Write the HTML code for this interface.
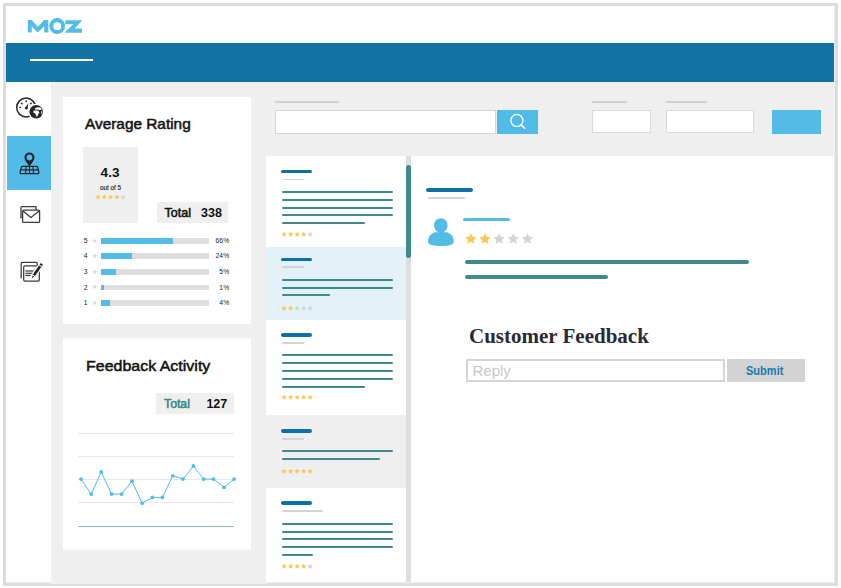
<!DOCTYPE html>
<html><head><meta charset="utf-8">
<style>
*{margin:0;padding:0;box-sizing:border-box}
html,body{width:841px;height:588px;overflow:hidden;background:#fff;font-family:"Liberation Sans",sans-serif}
.a{position:absolute}
.frame{left:3px;top:3px;width:835px;height:583px;border:3px solid #dddddd;background:#efefef}
.hdrw{left:6px;top:6px;width:828px;height:37px;background:#fff}
.hdr{left:6px;top:43px;width:828px;height:38.5px;background:#1174a5}
.side{left:6px;top:81.5px;width:45px;height:500.5px;background:#fff}
.card{background:#fff}
.ln{position:absolute;border-radius:2px}
.teal{background:#3e8a8a;height:2px}
.blu{background:#0e70a5;height:3.6px;border-radius:2px}
.gry{background:#d4d4d4;height:1.9px}
svg{position:absolute;overflow:visible}
.t{position:absolute;white-space:nowrap;line-height:1}
</style></head><body>
<svg width="0" height="0" style="position:absolute">
<defs>
<symbol id="st" viewBox="0 0 20 20"><polygon points="10.00,1.00 12.54,7.11 19.13,7.63 14.11,11.93 15.64,18.37 10.00,14.92 4.36,18.37 5.89,11.93 0.87,7.63 7.46,7.11"/></symbol>
</defs>
</svg>

<div class="a frame"></div>
<div class="a hdrw"></div>
<div class="a hdr"></div>
<div class="a" style="left:30px;top:59px;width:63px;height:2px;background:#fff"></div>

<!-- logo -->
<svg class="a" style="left:0;top:0" width="100" height="45" viewBox="0 0 100 45">
  <g fill="#52bbe8">
    <polygon points="27.8,19.9 31.7,19.9 37.8,26.7 44.2,19.9 48.3,19.9 48.3,32.6 44.2,32.6 44.2,26.3 37.8,32.6 31.7,26.3 31.7,32.6 27.8,32.6"/>
    <path fill-rule="evenodd" d="M57.2,18.1 a8,8 0 1 1 0,16 a8,8 0 1 1 0,-16 Z M57.2,22.2 a3.95,3.95 0 1 0 0,7.9 a3.95,3.95 0 1 0 0,-7.9 Z"/>
    <polygon points="65.4,20.2 81.7,20.2 81.7,20.9 74.6,28.5 82,28.5 82,32.7 65.4,32.7 65.4,31.6 73.4,24.2 65.4,24.2"/>
  </g>
</svg>

<div class="a" style="left:51px;top:580px;width:215px;height:3.7px;background:#efefef"></div>
<div class="a side"></div>
<div class="a" style="left:7px;top:136px;width:44px;height:54px;background:#52bbe8"></div>

<!-- gauge icon -->
<svg class="a" style="left:0;top:0" width="60" height="300">
  <circle cx="26.1" cy="107.5" r="9.4" stroke="#25252d" fill="none" stroke-width="1.5"/>
  <g stroke="#25252d" stroke-width="1.5" stroke-linecap="round">
    <path d="M26.3,100.9 L26.3,101.5 M21.6,103.2 L22,103.6 M31.1,103.2 L30.7,103.6 M19.8,107.6 L20.3,107.6"/>
  </g>
  <g fill="#25252d">
    <path d="M27.5,108.7 L28.4,103.3 L25.1,107.8 Z"/>
    <circle cx="26.3" cy="108.2" r="1.35"/>
  </g>
  <circle cx="36.2" cy="111.8" r="8" fill="#fff"/>
  <circle cx="36.2" cy="111.8" r="6.8" fill="#25252d"/>
  <g fill="#fff">
    <path d="M34.8,108.3 L37.6,107.2 L40.6,107.6 L41.8,109.8 L39.2,109.9 L37.6,109.4 L35.4,109.7 Z"/>
    <path d="M33.5,110.8 L36.5,110.2 L38.6,111 L39.3,112.7 L38.2,114.3 L37.3,116.5 L36.5,116.8 L35.9,114.8 L34.8,113.2 L33.4,112.6 Z"/>
    <path d="M41.3,111 L42.3,111.6 L42.1,113.6 L41.2,114.3 Z"/>
  </g>
  <!-- pin icon -->
  <path fill-rule="evenodd" fill="#25252d" d="M29.45,152.4 a5.1,5.1 0 0 1 5.1,5.1 c0,2.4 -2.3,5 -5.1,9.1 c-2.8,-4.1 -5.1,-6.7 -5.1,-9.1 a5.1,5.1 0 0 1 5.1,-5.1 Z M29.45,154.55 a2.95,2.95 0 1 0 0.01,0 Z"/>
  <g stroke="#25252d" fill="none" stroke-width="1.25" stroke-linejoin="round" stroke-linecap="round">
    <path d="M22.4,166.4 L36.5,166.4 Q37.3,166.4 37.5,167.2 Q38.6,170 38.9,172.5 Q39,173.7 37.9,173.7 L21,173.7 Q19.9,173.7 20,172.5 Q20.3,170 21.4,167.2 Q21.6,166.4 22.4,166.4 Z"/>
    <path d="M20.9,169.9 L38.1,169.9" stroke-width="1.1"/>
    <path d="M26.1,166.6 L25.6,173.5 M29.5,166.6 L29.5,173.5 M32.9,166.6 L33.5,173.5" stroke-width="1.1"/>
  </g>
  <!-- mail icon -->
  <g stroke="#3a3a42" fill="none" stroke-width="1.3" stroke-linejoin="round">
    <path d="M21,218.5 L21,207.5 Q21,206.6 21.9,206.6 L36,206.6 L36,210"/>
    <rect x="22.6" y="210.2" width="17" height="12.2" rx="1.2" fill="#fff"/>
    <path d="M23,211 L30.9,217.5 L39.2,211"/>
  </g>

  <!-- edit icon -->
  <g stroke="#3a3a42" fill="none" stroke-width="1.25" stroke-linejoin="round">
    <path d="M21.2,278.4 L21.2,263.3 Q21.2,262.3 22.2,262.3 L36.2,262.3 Q37.2,262.3 37.2,263.3 L37.2,265.5"/>
    <rect x="23.7" y="265.8" width="15.6" height="15.2" rx="1.1" fill="#fff"/>
  </g>
  <g fill="#2e2e36">
    <rect x="25.4" y="270.4" width="8.2" height="1.15"/>
    <rect x="25.4" y="272.7" width="7.9" height="1.15"/>
    <rect x="25.4" y="274.9" width="5.9" height="1.15"/>
  </g>
  <path d="M29.44,277.31 L40.27,261.84 L44.37,264.70 L33.54,280.17 Z" fill="#fff"/>
  <path d="M32.75,274.50 L39.05,265.50 L41.35,267.10 L35.05,276.10 Z" fill="#25252d"/>
  <path d="M39.57,264.76 L40.72,263.12 L43.01,264.73 L41.86,266.37 Z" fill="#25252d"/>
  <path d="M32.48,275.41 L34.29,276.67 L32.01,278.00 Z" fill="#25252d"/>
</svg>

<!-- Average Rating card -->
<div class="a card" style="left:63px;top:97px;width:187.5px;height:226.7px"></div>
<div class="t" style="left:84.8px;top:115.9px;font-size:15px;color:#111;-webkit-text-stroke:0.5px #111;transform:scaleX(1.025);transform-origin:0 0">Average Rating</div>
<div class="a" style="left:83px;top:147px;width:55.3px;height:75.7px;background:#efefef"></div>
<div class="t" style="left:100.6px;top:166px;font-size:13.6px;font-weight:bold;color:#111">4.3</div>
<div class="t" style="left:99.9px;top:184.6px;font-size:6.3px;color:#222;-webkit-text-stroke:0.15px #222">out of 5</div>
<svg class="a" style="left:94.7px;top:194.4px" width="33" height="6">
  <g fill="#fbc75a"><use href="#st" x="0" y="0" width="6" height="6"/><use href="#st" x="6.3" y="0" width="6" height="6"/><use href="#st" x="12.6" y="0" width="6" height="6"/><use href="#st" x="18.9" y="0" width="6" height="6"/></g>
  <use href="#st" x="25.2" y="0" width="6" height="6" fill="#d6d6d6"/>
</svg>
<div class="a" style="left:157px;top:202px;width:71px;height:21px;background:#efefef"></div>
<div class="t" style="left:164.6px;top:207px;font-size:12.5px;color:#111;-webkit-text-stroke:0.55px #111">Total</div>
<div class="t" style="left:201px;top:207px;font-size:12.5px;font-weight:bold;color:#111">338</div>

<!-- rating bars -->
<div id="bars">
<div class="t" style="left:83.8px;top:238.1px;font-size:6.8px;color:#1a1a1a">5</div>
<svg class="a" style="left:91.8px;top:237.7px" width="6" height="6"><use href="#st" width="5.4" height="5.4" fill="#d9d9d9"/></svg>
<div class="a" style="left:101.3px;top:238.0px;width:107.5px;height:5.6px;background:#dedede"></div>
<div class="a" style="left:101.3px;top:238.0px;width:71.7px;height:5.6px;background:#52bbe8"></div>
<div class="t" style="left:200px;width:29.2px;text-align:right;top:238.1px;font-size:6.8px;color:#1a1a1a">66%</div>
<div class="t" style="left:83.8px;top:253.2px;font-size:6.8px;color:#1a1a1a">4</div>
<svg class="a" style="left:91.8px;top:252.8px" width="6" height="6"><use href="#st" width="5.4" height="5.4" fill="#d9d9d9"/></svg>
<div class="a" style="left:101.3px;top:253.1px;width:107.5px;height:5.6px;background:#dedede"></div>
<div class="a" style="left:101.3px;top:253.1px;width:30.7px;height:5.6px;background:#52bbe8"></div>
<div class="t" style="left:200px;width:29.2px;text-align:right;top:253.2px;font-size:6.8px;color:#1a1a1a">24%</div>
<div class="t" style="left:83.8px;top:269.2px;font-size:6.8px;color:#1a1a1a">3</div>
<svg class="a" style="left:91.8px;top:268.8px" width="6" height="6"><use href="#st" width="5.4" height="5.4" fill="#d9d9d9"/></svg>
<div class="a" style="left:101.3px;top:269.1px;width:107.5px;height:5.6px;background:#dedede"></div>
<div class="a" style="left:101.3px;top:269.1px;width:14.7px;height:5.6px;background:#52bbe8"></div>
<div class="t" style="left:200px;width:29.2px;text-align:right;top:269.2px;font-size:6.8px;color:#1a1a1a">5%</div>
<div class="t" style="left:83.8px;top:284.8px;font-size:6.8px;color:#1a1a1a">2</div>
<svg class="a" style="left:91.8px;top:284.4px" width="6" height="6"><use href="#st" width="5.4" height="5.4" fill="#d9d9d9"/></svg>
<div class="a" style="left:101.3px;top:284.7px;width:107.5px;height:5.6px;background:#dedede"></div>
<div class="a" style="left:101.3px;top:284.7px;width:2.6px;height:5.6px;background:#52bbe8"></div>
<div class="t" style="left:200px;width:29.2px;text-align:right;top:284.8px;font-size:6.8px;color:#1a1a1a">1%</div>
<div class="t" style="left:83.8px;top:300.3px;font-size:6.8px;color:#1a1a1a">1</div>
<svg class="a" style="left:91.8px;top:299.9px" width="6" height="6"><use href="#st" width="5.4" height="5.4" fill="#d9d9d9"/></svg>
<div class="a" style="left:101.3px;top:300.2px;width:107.5px;height:5.6px;background:#dedede"></div>
<div class="a" style="left:101.3px;top:300.2px;width:9.1px;height:5.6px;background:#52bbe8"></div>
<div class="t" style="left:200px;width:29.2px;text-align:right;top:300.3px;font-size:6.8px;color:#1a1a1a">4%</div>
</div>

<!-- Feedback Activity card -->
<div class="a card" style="left:63px;top:337.8px;width:187.5px;height:211.9px"></div>
<div class="t" style="left:85.5px;top:358px;font-size:15px;color:#111;-webkit-text-stroke:0.5px #111;transform:scaleX(1.065);transform-origin:0 0">Feedback Activity</div>
<div class="a" style="left:156px;top:393px;width:78px;height:21px;background:#efefef"></div>
<div class="t" style="left:163.6px;top:398.1px;font-size:12.5px;color:#3d8b8b;-webkit-text-stroke:0.6px #3d8b8b;transform:scaleX(0.98);transform-origin:0 0">Total</div>
<div class="t" style="left:206.4px;top:398.1px;font-size:12.5px;font-weight:bold;color:#111">127</div>
<div class="a" style="left:78px;top:433px;width:156px;height:1px;background:#e8e8e8"></div>
<div class="a" style="left:78px;top:456px;width:156px;height:1px;background:#e8e8e8"></div>
<div class="a" style="left:78px;top:479px;width:156px;height:1px;background:#e8e8e8"></div>
<div class="a" style="left:78px;top:502px;width:156px;height:1px;background:#e8e8e8"></div>
<div class="a" style="left:78px;top:526px;width:156px;height:1.3px;background:#8fbcbc"></div>
<svg class="a" style="left:0;top:0" width="841" height="588">
  <polyline fill="none" stroke="#52bbe8" stroke-width="1" points="81,479.1 91.2,494.1 101.2,472 111.6,494.1 121.6,494.1 132,481.2 142.2,503.2 152.4,497.4 162.4,497.4 172.8,475.8 183,479.1 193.4,466 203.6,479.1 213.6,479.1 224,487.4 234.2,479.1"/>
  <g fill="#52bbe8">
    <circle cx="81" cy="479.1" r="1.9"/><circle cx="91.2" cy="494.1" r="1.9"/><circle cx="101.2" cy="472" r="1.9"/><circle cx="111.6" cy="494.1" r="1.9"/><circle cx="121.6" cy="494.1" r="1.9"/><circle cx="132" cy="481.2" r="1.9"/><circle cx="142.2" cy="503.2" r="1.9"/><circle cx="152.4" cy="497.4" r="1.9"/><circle cx="162.4" cy="497.4" r="1.9"/><circle cx="172.8" cy="475.8" r="1.9"/><circle cx="183" cy="479.1" r="1.9"/><circle cx="193.4" cy="466" r="1.9"/><circle cx="203.6" cy="479.1" r="1.9"/><circle cx="213.6" cy="479.1" r="1.9"/><circle cx="224" cy="487.4" r="1.9"/><circle cx="234.2" cy="479.1" r="1.9"/>
  </g>
</svg>

<!-- search -->
<div class="a" style="left:275px;top:101px;width:64px;height:2px;background:#d2d2d2"></div>
<div class="a" style="left:274.5px;top:110px;width:221.3px;height:23.5px;background:#fff;border:1.5px solid #d5d5d5"></div>
<div class="a" style="left:497.3px;top:110px;width:41.2px;height:23.5px;background:#52bbe8"></div>
<svg class="a" style="left:0;top:0" width="841" height="200">
  <circle cx="516.9" cy="120.4" r="6" fill="none" stroke="#fff" stroke-width="1.4"/>
  <path d="M521.2,124.7 L525.1,128.7" stroke="#fff" stroke-width="1.5"/>
</svg>
<div class="a" style="left:592px;top:101px;width:35px;height:2px;background:#d2d2d2"></div>
<div class="a" style="left:592px;top:110px;width:59px;height:23px;background:#fff;border:1px solid #dadada"></div>
<div class="a" style="left:665.5px;top:101px;width:41.5px;height:2px;background:#d2d2d2"></div>
<div class="a" style="left:665.5px;top:110px;width:88px;height:23px;background:#fff;border:1px solid #dadada"></div>
<div class="a" style="left:772px;top:110px;width:48.5px;height:23.5px;background:#52bbe8"></div>

<!-- list panel -->
<div class="a" style="left:266px;top:156px;width:568px;height:426px;background:#fff"></div>
<div class="a" style="left:266px;top:247px;width:139.5px;height:73px;background:#e3f1f8"></div>
<div class="a" style="left:266px;top:415px;width:139.5px;height:73px;background:#efefef"></div>
<div class="a" style="left:405.5px;top:156px;width:5.5px;height:426px;background:#dedede"></div>
<div class="a" style="left:405.5px;top:165px;width:5.5px;height:93px;background:#3e8a8a;border-radius:3px"></div>
<div id="items">
<div class="ln blu" style="left:281px;top:169.6px;width:31.3px"></div>
<div class="ln gry" style="left:282px;top:178.5px;width:22.1px"></div>
<div class="ln teal" style="left:282px;top:191px;width:111.2px"></div>
<div class="ln teal" style="left:282px;top:199px;width:111.2px"></div>
<div class="ln teal" style="left:282px;top:207px;width:111.2px"></div>
<div class="ln teal" style="left:282px;top:214px;width:111.2px"></div>
<div class="ln teal" style="left:282px;top:222px;width:83.0px"></div>
<svg class="a" style="left:280.9px;top:230.7px" width="34" height="7"><use href="#st" x="0.0" y="0" width="6.3" height="6.3" fill="#fbc75a"/><use href="#st" x="6.5" y="0" width="6.3" height="6.3" fill="#fbc75a"/><use href="#st" x="13.0" y="0" width="6.3" height="6.3" fill="#fbc75a"/><use href="#st" x="19.5" y="0" width="6.3" height="6.3" fill="#fbc75a"/><use href="#st" x="26.0" y="0" width="6.3" height="6.3" fill="#d4d4d4"/></svg>
<div class="ln blu" style="left:281px;top:257.6px;width:31.3px"></div>
<div class="ln gry" style="left:282px;top:266.4px;width:22.1px"></div>
<div class="ln teal" style="left:282px;top:279px;width:111.2px"></div>
<div class="ln teal" style="left:282px;top:287px;width:111.2px"></div>
<div class="ln teal" style="left:282px;top:294px;width:48.4px"></div>
<svg class="a" style="left:280.9px;top:304.5px" width="34" height="7"><use href="#st" x="0.0" y="0" width="6.3" height="6.3" fill="#fbc75a"/><use href="#st" x="6.5" y="0" width="6.3" height="6.3" fill="#fbc75a"/><use href="#st" x="13.0" y="0" width="6.3" height="6.3" fill="#d4d4d4"/><use href="#st" x="19.5" y="0" width="6.3" height="6.3" fill="#d4d4d4"/><use href="#st" x="26.0" y="0" width="6.3" height="6.3" fill="#d4d4d4"/></svg>
<div class="ln blu" style="left:281px;top:333.0px;width:31.3px"></div>
<div class="ln gry" style="left:282px;top:342.0px;width:22.1px"></div>
<div class="ln teal" style="left:282px;top:354px;width:111.2px"></div>
<div class="ln teal" style="left:282px;top:362px;width:111.2px"></div>
<div class="ln teal" style="left:282px;top:370px;width:111.2px"></div>
<div class="ln teal" style="left:282px;top:378px;width:111.2px"></div>
<div class="ln teal" style="left:282px;top:386px;width:83.0px"></div>
<svg class="a" style="left:280.9px;top:394.4px" width="34" height="7"><use href="#st" x="0.0" y="0" width="6.3" height="6.3" fill="#fbc75a"/><use href="#st" x="6.5" y="0" width="6.3" height="6.3" fill="#fbc75a"/><use href="#st" x="13.0" y="0" width="6.3" height="6.3" fill="#fbc75a"/><use href="#st" x="19.5" y="0" width="6.3" height="6.3" fill="#fbc75a"/><use href="#st" x="26.0" y="0" width="6.3" height="6.3" fill="#fbc75a"/></svg>
<div class="ln blu" style="left:281px;top:429.1px;width:31.3px"></div>
<div class="ln gry" style="left:282px;top:438.1px;width:22.1px"></div>
<div class="ln teal" style="left:282px;top:450px;width:111.2px"></div>
<div class="ln teal" style="left:282px;top:458px;width:98.2px"></div>
<svg class="a" style="left:280.9px;top:468.2px" width="34" height="7"><use href="#st" x="0.0" y="0" width="6.3" height="6.3" fill="#fbc75a"/><use href="#st" x="6.5" y="0" width="6.3" height="6.3" fill="#fbc75a"/><use href="#st" x="13.0" y="0" width="6.3" height="6.3" fill="#fbc75a"/><use href="#st" x="19.5" y="0" width="6.3" height="6.3" fill="#fbc75a"/><use href="#st" x="26.0" y="0" width="6.3" height="6.3" fill="#fbc75a"/></svg>
<div class="ln blu" style="left:281px;top:501.4px;width:31.3px"></div>
<div class="ln gry" style="left:282px;top:510.2px;width:41.4px"></div>
<div class="ln teal" style="left:282px;top:523px;width:111.2px"></div>
<div class="ln teal" style="left:282px;top:531px;width:111.2px"></div>
<div class="ln teal" style="left:282px;top:538px;width:111.2px"></div>
<div class="ln teal" style="left:282px;top:546px;width:111.2px"></div>
<div class="ln teal" style="left:282px;top:554px;width:30.9px"></div>
<svg class="a" style="left:280.9px;top:563.0px" width="34" height="7"><use href="#st" x="0.0" y="0" width="6.3" height="6.3" fill="#fbc75a"/><use href="#st" x="6.5" y="0" width="6.3" height="6.3" fill="#fbc75a"/><use href="#st" x="13.0" y="0" width="6.3" height="6.3" fill="#fbc75a"/><use href="#st" x="19.5" y="0" width="6.3" height="6.3" fill="#fbc75a"/><use href="#st" x="26.0" y="0" width="6.3" height="6.3" fill="#d4d4d4"/></svg>
</div>

<!-- detail -->
<div class="ln blu" style="left:426.4px;top:188.3px;width:47px;height:3.4px"></div>
<div class="ln gry" style="left:427.6px;top:197.3px;width:37px"></div>
<svg class="a" style="left:0;top:0" width="841" height="300">
  <ellipse cx="440.8" cy="225.6" rx="6.8" ry="7.4" fill="#52bbe8"/>
  <path d="M435,232.3 L446.6,232.3 C451,233.3 453.8,237.3 453.8,241.2 C453.8,245.2 448,245.9 440.9,245.9 C433.6,245.9 428,245.2 428,241.2 C428,237.3 430.8,233.3 435,232.3 Z" fill="#52bbe8"/>
</svg>
<div class="ln" style="left:463.3px;top:217.8px;width:46.5px;height:3.4px;background:#52bbe8"></div>
<svg class="a" style="left:0;top:0" width="841" height="300"><use href="#st" x="464.40" y="232.3" width="12.8" height="12.8" fill="#fcc75a"/><use href="#st" x="478.57" y="232.3" width="12.8" height="12.8" fill="#fcc75a"/><use href="#st" x="492.74" y="232.3" width="12.8" height="12.8" fill="#d4d4d4"/><use href="#st" x="506.91" y="232.3" width="12.8" height="12.8" fill="#d4d4d4"/><use href="#st" x="521.08" y="232.3" width="12.8" height="12.8" fill="#d4d4d4"/></svg>
<div class="ln teal" style="left:464.5px;top:260.1px;width:284.2px;height:3.6px;background:#3e8a8a"></div>
<div class="ln teal" style="left:464.5px;top:275.1px;width:143.6px;height:3.6px;background:#3e8a8a"></div>

<div class="t" style="left:469px;top:326px;font-family:'Liberation Serif',serif;font-weight:bold;font-size:20px;color:#2a2a34;transform:scaleX(1.05);transform-origin:0 0">Customer Feedback</div>
<div class="a" style="left:465.8px;top:359.3px;width:259px;height:23.1px;background:#fff;border:2px solid #d5d5d5"></div>
<div class="t" style="left:472.5px;top:363px;font-size:15px;color:#c8c8c8">Reply</div>
<div class="a" style="left:726.8px;top:359.3px;width:78.1px;height:23.1px;background:#d3d3d3"></div>
<div class="t" style="left:746px;top:365px;font-size:12px;font-weight:bold;color:#1a78ae;transform:scaleX(0.92);transform-origin:0 0">Submit</div>

</body></html>
